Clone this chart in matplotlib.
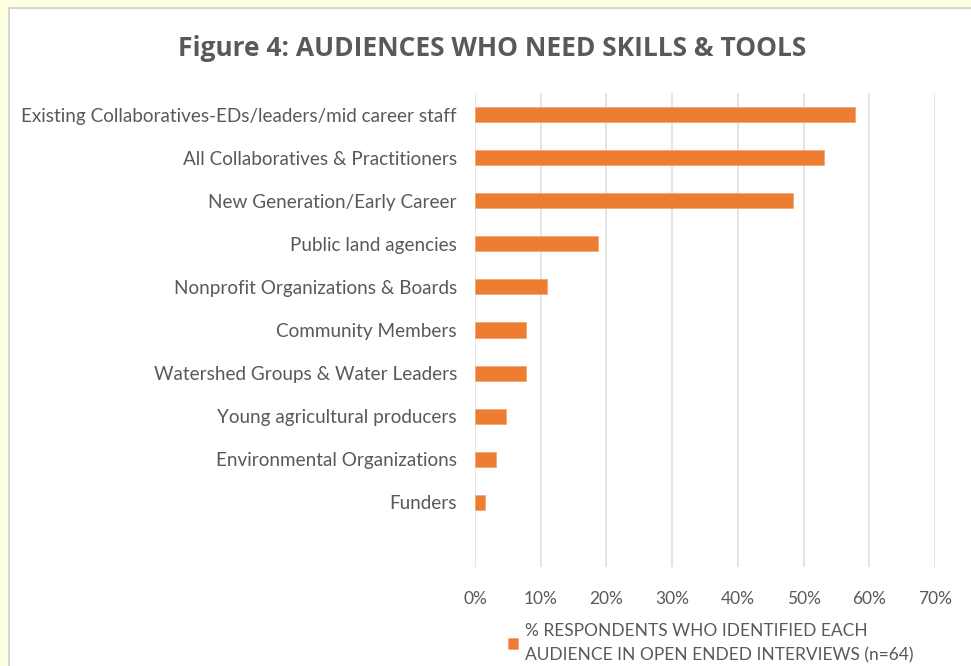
import matplotlib
matplotlib.use("Agg")
import matplotlib.pyplot as plt
from matplotlib.patches import Rectangle

# Survey results: share of respondents (n=64) naming each audience
categories = [
    "Existing Collaboratives-EDs/leaders/mid career staff",
    "All Collaboratives & Practitioners",
    "New Generation/Early Career",
    "Public land agencies",
    "Nonprofit Organizations & Boards",
    "Community Members",
    "Watershed Groups & Water Leaders",
    "Young agricultural producers",
    "Environmental Organizations",
    "Funders",
]
counts = [37, 34, 31, 12, 7, 5, 5, 3, 2, 1]
n_respondents = 64
shares = [c / n_respondents for c in counts]
xticks = [0, 0.1, 0.2, 0.3, 0.4, 0.5, 0.6, 0.7]
xtick_labels = ["0%", "10%", "20%", "30%", "40%", "50%", "60%", "70%"]

title = "Figure 4: AUDIENCES WHO NEED SKILLS & TOOLS"
legend_label = "% RESPONDENTS WHO IDENTIFIED EACH\nAUDIENCE IN OPEN ENDED INTERVIEWS (n=64)"

W, H = 971, 666
text_gray = "#595959"
orange = "#ED7D31"

plt.rcParams["font.family"] = ["Lato", "DejaVu Sans"]

fig = plt.figure(figsize=(W / 100, H / 100), dpi=100, facecolor="#FFFFE1")

# white chart panel with a thin grey edge on the top and left
fig.patches.append(Rectangle((8 / W, 0), 1, 1 - 7 / H, transform=fig.transFigure,
                             facecolor="#D4D4D4", edgecolor="none", zorder=-10))
fig.patches.append(Rectangle((10 / W, 0), 1, 1 - 9 / H, transform=fig.transFigure,
                             facecolor="white", edgecolor="none", zorder=-9))

ax = fig.add_axes([475 / W, 1 - 567 / H, 460 / W, 474 / H])
ax.set_facecolor("none")
ax.set_zorder(5)

ypos = list(range(len(categories)))
ax.barh(ypos, shares, height=0.35, color=orange, edgecolor="#F4A77A",
        linewidth=0.6, zorder=3, label=legend_label)

ax.set_xlim(0, 0.7)
ax.set_ylim(len(categories) + 0.5, -0.5)
ax.set_xticks(xticks)
ax.set_xticklabels(xtick_labels)
ax.set_yticks(ypos)
ax.set_yticklabels(categories)
ax.tick_params(axis="x", length=0, colors=text_gray, labelsize=12.5, pad=17)
ax.tick_params(axis="y", length=0, colors=text_gray, labelsize=13.6, pad=13)
ax.grid(axis="x", color="#DCDCDC", linewidth=1.1, zorder=0)
for s in ax.spines.values():
    s.set_visible(False)

fig.text(492 / W, 1 - 48 / H, title, ha="center", va="center",
         fontsize=19, fontweight="bold", color=text_gray,
         family=["Open Sans", "DejaVu Sans"])

leg = fig.legend(loc="upper left", bbox_to_anchor=(508 / W, 1 - 623 / H),
                 frameon=False, fontsize=12.5, handlelength=0.6, handleheight=0.6,
                 handletextpad=0.4, borderaxespad=0, borderpad=0)
for t in leg.get_texts():
    t.set_color(text_gray)
    t.set_linespacing(1.6)

fig.savefig("out.png", dpi=100, facecolor=fig.get_facecolor())
